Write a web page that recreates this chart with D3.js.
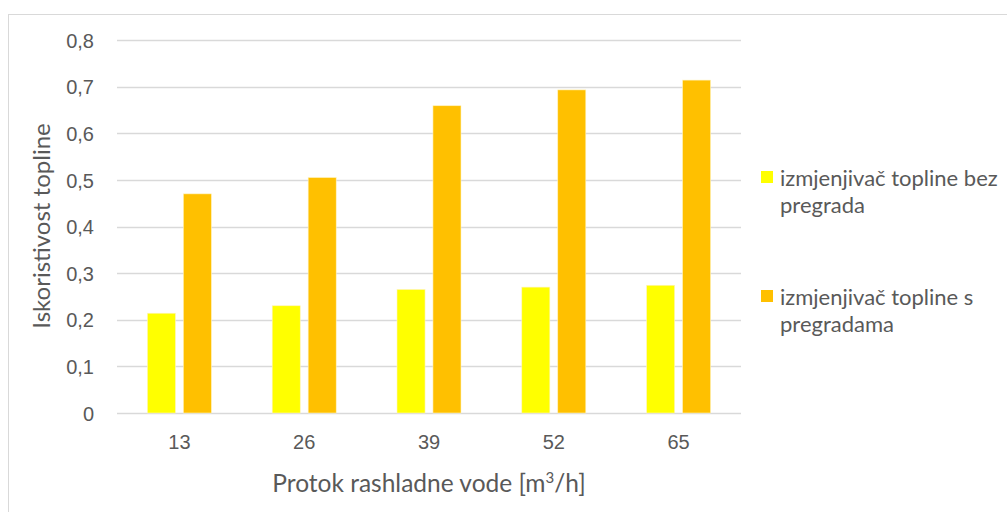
<!DOCTYPE html>
<html>
<head>
<meta charset="utf-8">
<script src="https://cdn.jsdelivr.net/npm/d3@7"></script>
<style>
  body { margin: 0; background: #fff; }
  svg { display: block; font-family: Lato, 'Open Sans', sans-serif; }
  .tick text { fill: #595959; }
</style>
</head>
<body>
<svg id="chart" width="1007" height="512"></svg>
<script>
const categories = ['13', '26', '39', '52', '65'];
const seriesNames = ['izmjenjivač topline bez pregrada', 'izmjenjivač topline s pregradama'];
const bezPregrada = [0.214, 0.23, 0.265, 0.27, 0.274];
const sPregradama = [0.47, 0.505, 0.659, 0.693, 0.714];
const yTicks = [0, 0.1, 0.2, 0.3, 0.4, 0.5, 0.6, 0.7, 0.8];
const colors = ['#ffff00', '#ffc000'];

const svg = d3.select('#chart');

// outer frame, runs off the right and bottom edge like the source
svg.append('rect')
  .attr('x', 8.5).attr('y', 14.5)
  .attr('width', 1010).attr('height', 510)
  .attr('fill', 'none').attr('stroke', '#d9d9d9');

const plot = { left: 117, right: 741, top: 40, bottom: 413 };

const x = d3.scaleBand()
  .domain(categories)
  .range([plot.left, plot.right]);

const inner = d3.scaleBand()
  .domain([0, 1])
  .range([x.bandwidth() / 2 - 32, x.bandwidth() / 2 + 32])
  .paddingInner(0.22);

const y = d3.scaleLinear()
  .domain([0, 0.8])
  .range([plot.bottom, plot.top]);

// gridlines
svg.append('g')
  .selectAll('line')
  .data(yTicks)
  .join('line')
  .attr('x1', plot.left).attr('x2', plot.right)
  .attr('y1', d => Math.round(y(d)) + 0.5)
  .attr('y2', d => Math.round(y(d)) + 0.5)
  .attr('stroke', '#d9d9d9')
  .attr('stroke-width', 1.3);

// y axis labels
const yAxis = svg.append('g')
  .attr('transform', `translate(${plot.left},0)`)
  .call(d3.axisLeft(y).tickValues(yTicks).tickSize(0).tickPadding(23)
    .tickFormat(d => d3.format('.1f')(d).replace('.', ',').replace(/^0,0$/, '0')));
yAxis.select('.domain').remove();
yAxis.selectAll('text').attr('font-size', 20).attr('dy', '0.36em');

// x axis labels
const xAxis = svg.append('g')
  .attr('transform', `translate(0,${plot.bottom})`)
  .call(d3.axisBottom(x).tickSize(0).tickPadding(22));
xAxis.select('.domain').remove();
xAxis.selectAll('text').attr('font-size', 20);

// bars
const rows = categories.map((c, i) => ({ c, vals: [bezPregrada[i], sPregradama[i]] }));
const groups = svg.append('g')
  .selectAll('g')
  .data(rows)
  .join('g')
  .attr('transform', d => `translate(${x(d.c)},0)`);

groups.selectAll('rect')
  .data(d => d.vals.map((v, k) => ({ v, k })))
  .join('rect')
  .attr('x', d => inner(d.k))
  .attr('width', inner.bandwidth())
  .attr('y', d => y(d.v))
  .attr('height', d => y(0) - y(d.v))
  .attr('fill', d => colors[d.k])
  .attr('stroke', '#fff3c0')
  .attr('stroke-width', 0.6);

// axis titles
svg.append('text')
  .attr('transform', 'translate(50,226) rotate(-90)')
  .attr('text-anchor', 'middle')
  .attr('font-size', 24)
  .attr('fill', '#595959')
  .text('Iskoristivost topline');

const xt = svg.append('text')
  .attr('x', 429).attr('y', 492)
  .attr('text-anchor', 'middle')
  .attr('font-size', 24.5)
  .attr('fill', '#595959');
xt.append('tspan').text('Protok rashladne vode [m');
xt.append('tspan').attr('font-size', 15).attr('dy', -9).text('3');
xt.append('tspan').attr('dy', 9).text('/h]');

// legend
const legendLines = [['izmjenjivač topline bez', 'pregrada'], ['izmjenjivač topline s', 'pregradama']];
const legend = svg.append('g')
  .selectAll('g')
  .data(seriesNames)
  .join('g')
  .attr('transform', (d, i) => `translate(761,${171 + i * 119})`);

legend.append('rect')
  .attr('width', 12).attr('height', 12)
  .attr('fill', (d, i) => colors[i]);

legend.append('text')
  .attr('x', 19)
  .attr('font-size', 22)
  .attr('fill', '#595959')
  .selectAll('tspan')
  .data((d, i) => legendLines[i])
  .join('tspan')
  .attr('x', 19)
  .attr('y', (d, j) => 15 + j * 27)
  .text(d => d);
</script>
</body>
</html>
